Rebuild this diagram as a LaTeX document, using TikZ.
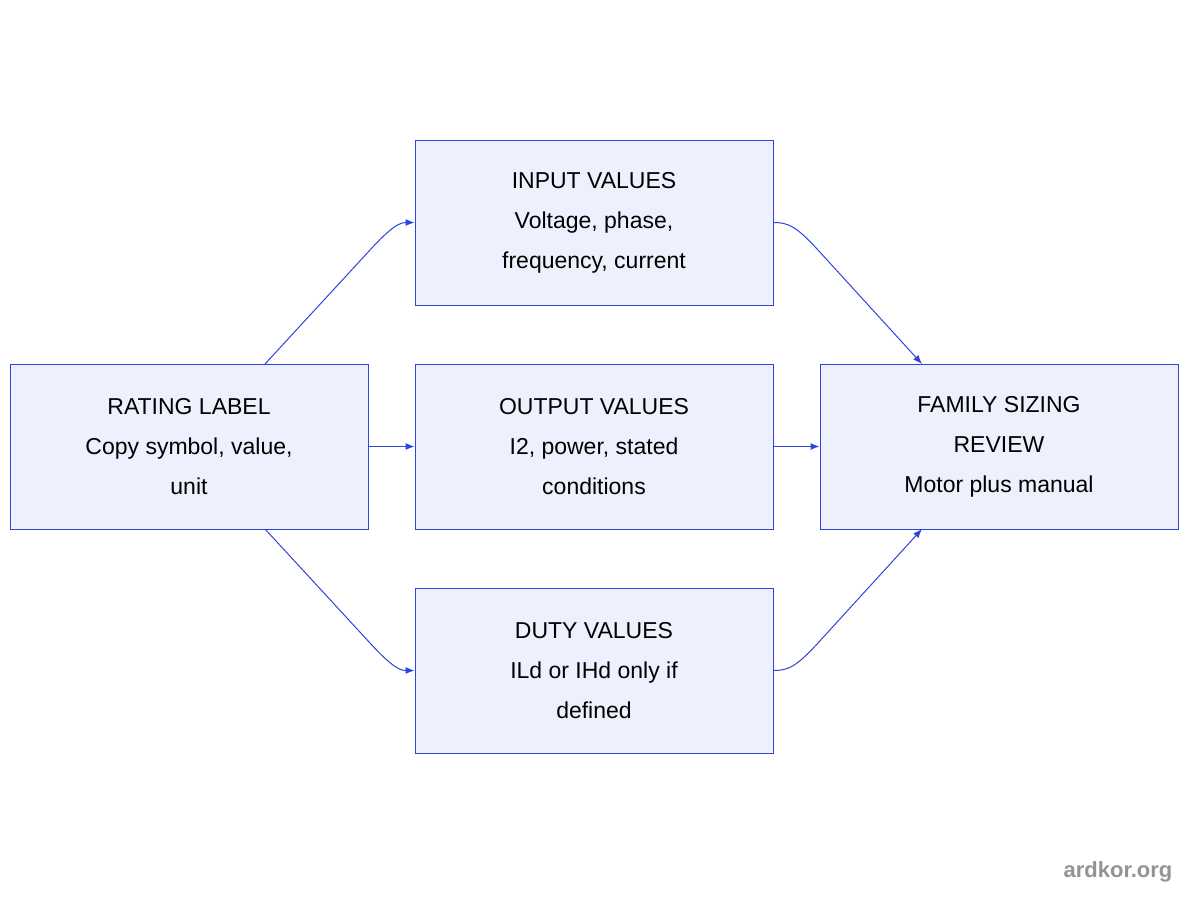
\documentclass[tikz,border=0pt]{standalone}
\usepackage{fontspec}
\setmainfont{Liberation Sans}
\usetikzlibrary{arrows.meta}
\definecolor{bx}{HTML}{EEF0FD}
\definecolor{ln}{HTML}{2D45DB}
\begin{document}
\begin{tikzpicture}[x=1pt,y=-1pt,
 box/.style={draw=ln,fill=bx,line width=1pt,minimum width=358pt,minimum height=165pt,align=center,font=\fontsize{23}{40}\selectfont,text=black},
 ar/.style={draw=ln,line width=1pt,-{Latex[length=9pt,width=7pt]}}]
\useasboundingbox (0,0) rectangle (1200,900);
\node[box] (r) at (189,446.5) {RATING LABEL\\Copy symbol, value,\\unit};
\node[box] (i) at (594,222.5) {INPUT VALUES\\Voltage, phase,\\frequency, current};
\node[box] (o) at (594,446.5) {OUTPUT VALUES\\I2, power, stated\\conditions};
\node[box] (d) at (594,670.5) {DUTY VALUES\\ILd or IHd only if\\defined};
\node[box] (f) at (999,446.5) {FAMILY SIZING\\REVIEW\\Motor plus manual};
\coordinate (rt) at (265,364);
\coordinate (rb) at (265,529);
\coordinate (ft) at (922,364);
\coordinate (fb) at (922,529);
\draw[ar] (rt) -- (370,250) .. controls (392,226) and (400,222.5) .. (i.west);
\draw[ar] (rb) -- (370,643) .. controls (392,667) and (400,670.5) .. (d.west);
\draw[ar] (i.east) .. controls (788,222.5) and (796,226) .. (818,250) -- (ft);
\draw[ar] (d.east) .. controls (788,670.5) and (796,667) .. (818,643) -- (fb);
\draw[ar] (r.east) -- (o.west);
\draw[ar] (o.east) -- (f.west);
\node[font=\bfseries\fontsize{22}{24}\selectfont,text=gray!85] (w) at (1118,872) {ardkor.org};
\end{tikzpicture}
\end{document}
